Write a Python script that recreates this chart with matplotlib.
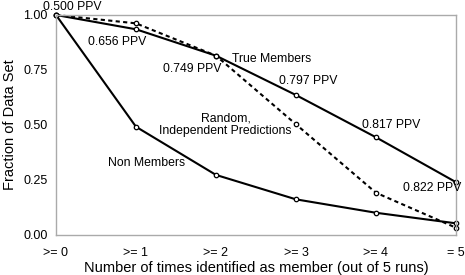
import matplotlib
matplotlib.use("Agg")
import matplotlib.pyplot as plt

# data
runs = [0, 1, 2, 3, 4, 5]
tick_labels = [">= 0", ">= 1", ">= 2", ">= 3", ">= 4", "= 5"]
true_members = [1.0, 0.935, 0.815, 0.636, 0.444, 0.240]
random_pred = [1.0, 0.962, 0.815, 0.503, 0.192, 0.033]
non_members = [1.0, 0.492, 0.273, 0.162, 0.101, 0.053]

plt.rcParams['font.family'] = ['Liberation Sans', 'DejaVu Sans']

fig = plt.figure(figsize=(4.65, 2.75), dpi=100)
ax = fig.add_axes([0.1204, 0.1455, 0.8602, 0.8])

mk = dict(marker='o', markersize=3.2, markerfacecolor='white',
          markeredgecolor='black', markeredgewidth=0.9, clip_on=False)
ax.plot(runs, random_pred, color='black', lw=1.5, linestyle=(0, (2, 1.6)), **mk)
ax.plot(runs, non_members, color='black', lw=1.5, **mk)
ax.plot(runs, true_members, color='black', lw=1.5, **mk)

ax.set_xlim(0, 5)
ax.set_ylim(0, 1)
ax.set_xticks(runs)
ax.set_xticklabels(tick_labels)
ax.set_yticks([0, 0.25, 0.5, 0.75, 1.0])
ax.set_yticklabels(["0.00", "0.25", "0.50", "0.75", "1.00"])
ax.tick_params(length=0, labelsize=9)
ax.tick_params(axis='x', pad=9)
ax.tick_params(axis='y', pad=6)
for s in ax.spines.values():
    s.set_color('#aaaaaa')
    s.set_linewidth(1.0)

ax.set_xlabel("Number of times identified as member (out of 5 runs)", fontsize=10.5, labelpad=1)
ax.set_ylabel("Fraction of Data Set", fontsize=10.5)
ax.yaxis.set_label_coords(-0.098, 0.5)

# annotations (positions in data units)
fs = 8.8
def note(x, y, s, **kw):
    ax.text(x, y, s, fontsize=fs, ha='center', va='center', **kw)

note(0.2, 1.035, "0.500 PPV", clip_on=False)
note(0.77, 0.875, "0.656 PPV")
note(1.70, 0.755, "0.749 PPV")
note(2.70, 0.80, "True Members")
note(3.15, 0.70, "0.797 PPV")
note(2.12, 0.50, "Random,\nIndependent Predictions", linespacing=1.05)
note(4.19, 0.50, "0.817 PPV")
note(1.13, 0.327, "Non Members")
note(4.70, 0.215, "0.822 PPV")

fig.savefig("out.png", dpi=100)
